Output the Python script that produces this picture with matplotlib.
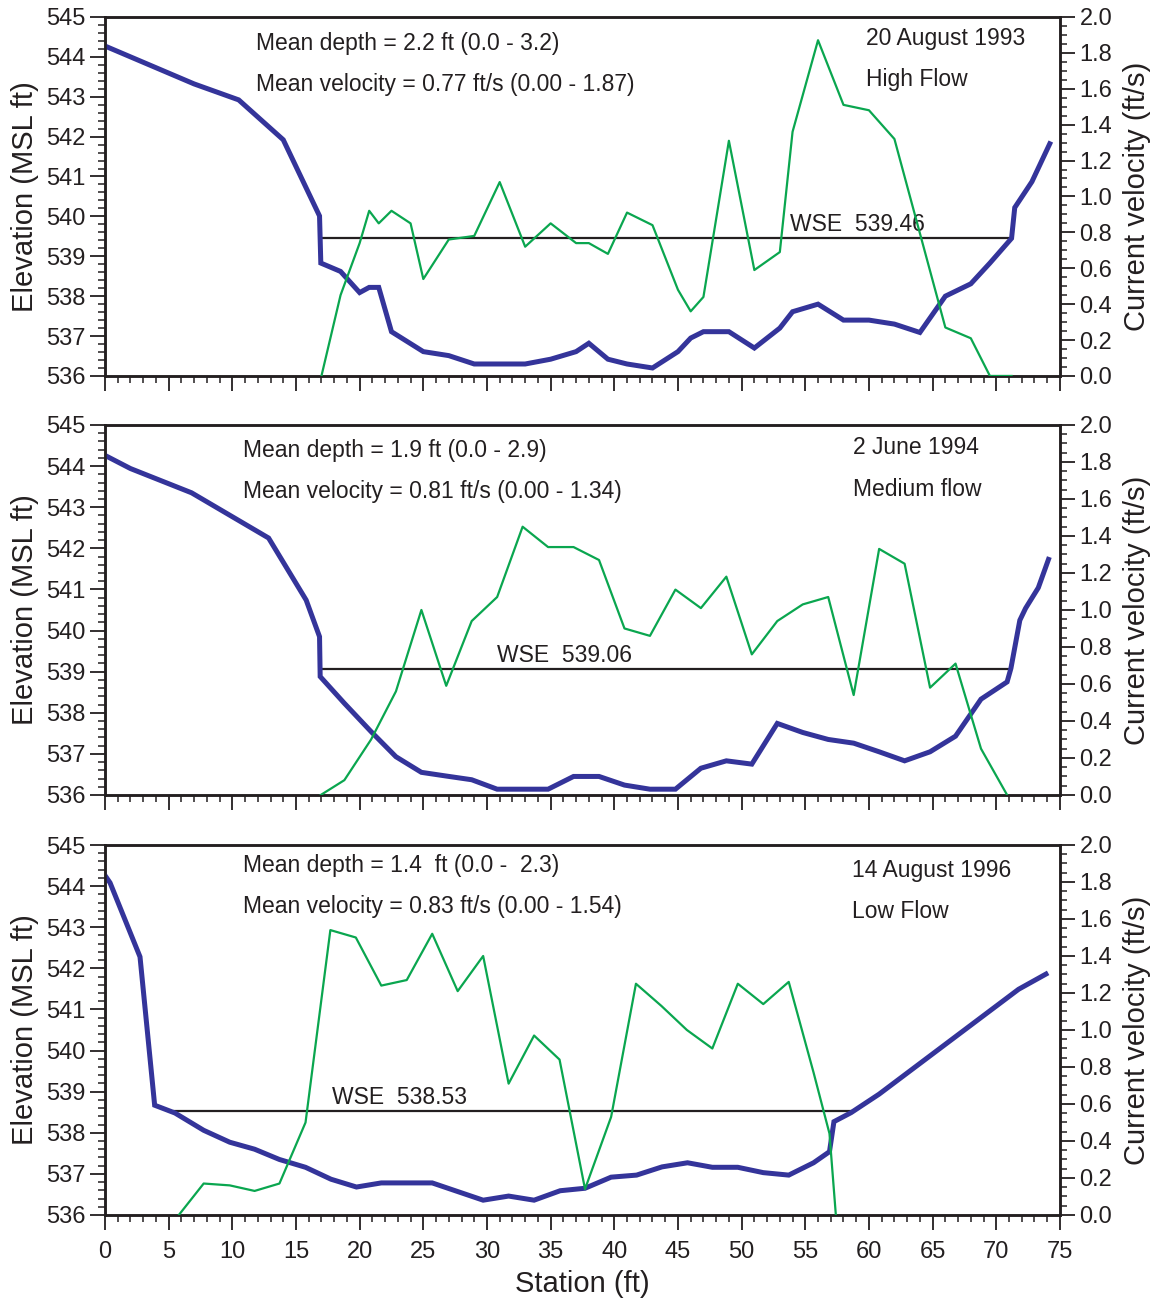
import matplotlib
matplotlib.use("Agg")
import matplotlib.pyplot as plt
from matplotlib.ticker import MultipleLocator

plt.rcParams['font.family'] = ['Liberation Sans', 'DejaVu Sans']
plt.rcParams['text.color'] = '#231f20'
plt.rcParams['axes.labelcolor'] = '#231f20'

BED_COLOR = '#34349a'
VEL_COLOR = '#0aa64f'
INK = '#231f20'

# --- 20 August 1993, high flow ---
sta_93 = [0, 7, 10.5, 14, 16.85, 16.95, 18.5, 20, 20.75, 21.5, 22.5, 25, 27, 29, 33,
          35, 37, 38, 39.5, 41, 43, 45, 46, 47, 49, 51, 53, 54, 56, 58, 60, 62, 64,
          66, 68, 69.5, 71.2, 71.45, 72.8, 74.2]
elev_93 = [544.27, 543.32, 542.92, 541.92, 540.01, 538.83, 538.62, 538.09, 538.22,
           538.22, 537.11, 536.61, 536.51, 536.3, 536.3, 536.42, 536.61, 536.82,
           536.42, 536.3, 536.2, 536.61, 536.95, 537.11, 537.11, 536.7, 537.2, 537.61,
           537.8, 537.4, 537.4, 537.3, 537.09, 538.0, 538.31, 538.83, 539.45, 540.22,
           540.87, 541.82]
vsta_93 = [17, 18.5, 20, 20.75, 21.5, 22.5, 24, 25, 27, 29, 31, 33, 35, 37, 38, 39.5,
           41, 43, 45, 46, 47, 49, 51, 53, 54, 56, 58, 60, 62, 66, 68, 69.5, 71.2]
vel_93 = [0.0, 0.45, 0.74, 0.92, 0.85, 0.92, 0.85, 0.54, 0.76, 0.78, 1.08, 0.72, 0.85,
          0.74, 0.74, 0.68, 0.91, 0.84, 0.48, 0.36, 0.44, 1.31, 0.59, 0.69, 1.36, 1.87,
          1.51, 1.48, 1.32, 0.27, 0.21, 0.0, 0.0]
wse_93 = 539.46
wse_span_93 = (17, 71.2)

# --- 2 June 1994, medium flow ---
sta_94 = [0, 2, 6.8, 12.85, 15.8, 16.85, 16.9, 18.8, 20.9, 22.85, 24.85, 26.8, 28.8,
          30.8, 34.8, 36.8, 38.8, 40.8, 42.8, 44.8, 46.8, 48.8, 50.8, 52.8, 54.8, 56.8,
          58.8, 60.8, 62.8, 64.8, 66.8, 68.8, 70.85, 71.15, 71.85, 72.3, 73.3, 74.1]
elev_94 = [544.26, 543.94, 543.35, 542.25, 540.74, 539.85, 538.88, 538.23, 537.54,
           536.93, 536.55, 536.46, 536.37, 536.14, 536.14, 536.45, 536.45, 536.24,
           536.14, 536.14, 536.65, 536.83, 536.75, 537.74, 537.52, 537.35, 537.26,
           537.05, 536.83, 537.05, 537.43, 538.33, 538.75, 539.08, 540.25, 540.54,
           541.04, 541.73]
vsta_94 = [16.95, 18.8, 20.9, 22.85, 24.85, 26.8, 28.8, 30.8, 32.8, 34.8, 36.8, 38.8,
           40.8, 42.8, 44.8, 46.8, 48.8, 50.8, 52.8, 54.8, 56.8, 58.8, 60.8, 62.8,
           64.8, 66.8, 68.8, 70.85]
vel_94 = [0.0, 0.08, 0.30, 0.56, 1.00, 0.59, 0.94, 1.07, 1.45, 1.34, 1.34, 1.27, 0.90,
          0.86, 1.11, 1.01, 1.18, 0.76, 0.94, 1.03, 1.07, 0.54, 1.33, 1.25, 0.58, 0.71,
          0.25, 0.0]
wse_94 = 539.06
wse_span_94 = (16.95, 70.95)

# --- 14 August 1996, low flow ---
sta_96 = [0, 0.4, 2.75, 3.9, 5.5, 7.75, 9.8, 11.75, 13.7, 15.75, 17.75, 19.75, 21.7,
          23.7, 25.7, 27.7, 29.7, 31.7, 33.7, 35.75, 37.7, 39.75, 41.75, 43.75, 45.75,
          47.7, 49.7, 51.7, 53.7, 55.65, 56.9, 57.25, 58.6, 60.8, 71.75, 73.9]
elev_96 = [544.26, 544.08, 542.28, 538.67, 538.48, 538.06, 537.77, 537.6, 537.35,
           537.16, 536.87, 536.68, 536.78, 536.78, 536.78, 536.57, 536.36, 536.46,
           536.36, 536.59, 536.65, 536.92, 536.97, 537.17, 537.27, 537.16, 537.16,
           537.03, 536.97, 537.27, 537.54, 538.27, 538.49, 538.94, 541.49, 541.86]
vsta_96 = [5.8, 7.75, 9.8, 11.75, 13.7, 15.75, 17.7, 19.7, 21.7, 23.7, 25.7, 27.7, 29.7,
           31.7, 33.7, 35.7, 37.7, 39.75, 41.7, 43.7, 45.7, 47.7, 49.7, 51.7, 53.7,
           55.65, 56.9, 57.4]
vel_96 = [0.0, 0.17, 0.16, 0.13, 0.17, 0.50, 1.54, 1.50, 1.24, 1.27, 1.52, 1.21, 1.40,
          0.71, 0.97, 0.84, 0.14, 0.53, 1.25, 1.13, 1.00, 0.90, 1.25, 1.14, 1.26, 0.77,
          0.44, 0.0]
wse_96 = 538.53
wse_span_96 = (5.4, 58.6)

panels = [
    dict(sta=sta_93, elev=elev_93, vsta=vsta_93, vel=vel_93, wse=wse_93, span=wse_span_93,
         stats=("Mean depth = 2.2 ft (0.0 - 3.2)",
                "Mean velocity = 0.77 ft/s (0.00 - 1.87)"),
         date=("20 August 1993", "High Flow"),
         stats_x=11.85, stats_y=(544.33, 543.3), date_x=59.8, date_y=(544.46, 543.42),
         wse_x=53.8, rect=[0.0909, 0.7108, 0.8268, 0.2762]),
    dict(sta=sta_94, elev=elev_94, vsta=vsta_94, vel=vel_94, wse=wse_94, span=wse_span_94,
         stats=("Mean depth = 1.9 ft (0.0 - 2.9)",
                "Mean velocity = 0.81 ft/s (0.00 - 1.34)"),
         date=("2 June 1994", "Medium flow"),
         stats_x=10.8, stats_y=(544.39, 543.39), date_x=58.75, date_y=(544.44, 543.44),
         wse_x=30.75, rect=[0.0909, 0.3885, 0.8268, 0.2846]),
    dict(sta=sta_96, elev=elev_96, vsta=vsta_96, vel=vel_96, wse=wse_96, span=wse_span_96,
         stats=("Mean depth = 1.4  ft (0.0 -  2.3)",
                "Mean velocity = 0.83 ft/s (0.00 - 1.54)"),
         date=("14 August 1996", "Low Flow"),
         stats_x=10.8, stats_y=(544.5, 543.5), date_x=58.7, date_y=(544.38, 543.38),
         wse_x=17.8, rect=[0.0909, 0.0654, 0.8268, 0.2846]),
]

fig = plt.figure(figsize=(11.55, 13.0), dpi=100)

for i, p in enumerate(panels):
    ax = fig.add_axes(p['rect'])
    ax2 = ax.twinx()

    ax.plot(p['sta'], p['elev'], color=BED_COLOR, lw=3.6, solid_joinstyle='miter',
            zorder=3)
    ax.plot(p['span'], [p['wse'], p['wse']], color=INK, lw=1.6, zorder=2)
    ax2.plot(p['vsta'], p['vel'], color=VEL_COLOR, lw=1.6, zorder=3)

    ax.set_xlim(0, 75)
    ax.set_ylim(536, 545)
    ax2.set_ylim(0, 2.0)

    ax.xaxis.set_major_locator(MultipleLocator(5))
    ax.xaxis.set_minor_locator(MultipleLocator(1))
    ax.yaxis.set_major_locator(MultipleLocator(1))
    ax.yaxis.set_minor_locator(MultipleLocator(0.2))
    ax2.yaxis.set_major_locator(MultipleLocator(0.2))
    ax2.yaxis.set_minor_locator(MultipleLocator(0.05))
    ax2.yaxis.set_major_formatter(lambda v, pos: f"{v:.1f}")

    for a in (ax, ax2):
        for s in a.spines.values():
            s.set_linewidth(1.8)
            s.set_color(INK)
        a.tick_params(which='major', direction='out', length=11, width=1.3,
                      labelsize=17, colors=INK, pad=3)
        a.tick_params(which='minor', direction='out', length=5, width=1.1,
                      colors=INK)
    ax.tick_params(axis='x', which='both', top=False)
    ax.tick_params(axis='x', which='major', pad=8)
    if i < 2:
        ax.tick_params(axis='x', labelbottom=False)
    else:
        ax.set_xlabel("Station (ft)", fontsize=21, labelpad=5)

    ax.set_ylabel("Elevation (MSL ft)", fontsize=21, labelpad=5)
    ax2.set_ylabel("Current velocity (ft/s)", fontsize=21, labelpad=8)

    for y, s in zip(p['stats_y'], p['stats']):
        ax.text(p['stats_x'], y, s, fontsize=16.5, va='center', ha='left')
    for y, s in zip(p['date_y'], p['date']):
        ax.text(p['date_x'], y, s, fontsize=16.5, va='center', ha='left')
    ax.text(p['wse_x'], p['wse'] + 0.06, f"WSE  {p['wse']:.2f}", fontsize=16.5,
            va='bottom', ha='left')

fig.savefig("out.png", dpi=100)
